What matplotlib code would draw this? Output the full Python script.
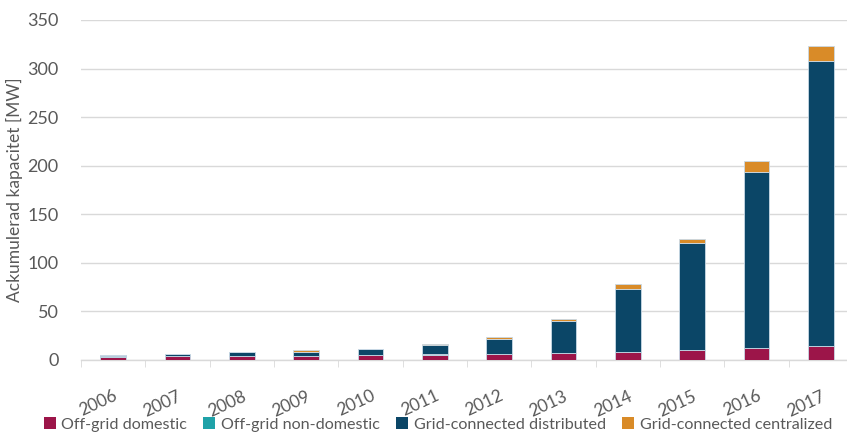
import matplotlib
matplotlib.use("Agg")
import matplotlib.pyplot as plt
import numpy as np
from matplotlib.patches import Patch

# ---------------------------------------------------------------------------
# Data (MW, accumulated)
# ---------------------------------------------------------------------------
years = ['2006', '2007', '2008', '2009', '2010', '2011',
         '2012', '2013', '2014', '2015', '2016', '2017']
off_grid_domestic = [3.5, 3.8, 3.8, 4.4, 4.7, 5.5, 6.2, 7.2, 8.2, 10.3, 12.4, 14.0]
off_grid_non_domestic = [0.2, 0.2, 0.2, 0.2, 0.2, 0.2, 0.2, 0.2, 0.2, 0.2, 0.2, 0.2]
grid_distributed = [1.8, 2.5, 4.5, 4.0, 6.1, 9.3, 15.2, 32.6, 65.1, 109.5, 181.4, 293.8]
grid_centralized = [0.0, 0.0, 0.0, 1.4, 0.7, 1.8, 1.8, 2.0, 4.5, 5.0, 11.0, 15.0]

labels = ['Off-grid domestic', 'Off-grid non-domestic',
          'Grid-connected distributed', 'Grid-connected centralized']
colors = ['#9c1549', '#1fa2a8', '#0b4667', '#d98b28']

plt.rcParams['font.family'] = ['Lato', 'DejaVu Sans']
text_grey = '#595959'

fig = plt.figure(figsize=(8.47, 4.34), dpi=100)
ax = fig.add_axes([81 / 847, 1 - 360 / 434, 772 / 847, 340 / 434])

x = np.arange(len(years))
series = [off_grid_domestic, off_grid_non_domestic, grid_distributed, grid_centralized]
bottom = np.zeros(len(years))
for vals, lab, col in zip(series, labels, colors):
    ax.bar(x, vals, width=0.4, bottom=bottom, color=col, label=lab,
           edgecolor='#c9d9e6', linewidth=0.6, zorder=3)
    bottom += np.array(vals)

ax.set_xlim(-0.5, len(years) - 0.5)
ax.set_ylim(0, 350)
ax.set_yticks(np.arange(0, 351, 50))
ax.yaxis.grid(True, color='#d9d9d9', linewidth=1, zorder=0)
ax.set_axisbelow(True)

for s in ['top', 'right', 'left']:
    ax.spines[s].set_visible(False)
ax.spines['bottom'].set_color('#d9d9d9')
ax.spines['bottom'].set_linewidth(1)

ax.set_xticks(x)
ax.set_xticklabels(years, rotation=25, ha='right', rotation_mode='anchor')
ax.set_xticks(np.arange(-0.5, len(years), 1), minor=True)
ax.tick_params(axis='x', which='major', length=0, pad=20, labelsize=12.5,
               labelcolor=text_grey)
ax.tick_params(axis='x', which='minor', length=5, color='#d9d9d9')
ax.tick_params(axis='y', length=0, pad=16, labelsize=13, labelcolor=text_grey)

ax.set_ylabel('Ackumulerad kapacitet [MW]', fontsize=12.5, color=text_grey,
              labelpad=3)

handles = [Patch(facecolor=c, edgecolor='none') for c in colors]
fig.legend(handles, labels, loc='center', bbox_to_anchor=(0.517, 0.022),
           ncol=4, frameon=False, fontsize=11.6, handlelength=0.75,
           handleheight=0.75, handletextpad=0.35, columnspacing=1.0,
           labelcolor=text_grey)

fig.savefig('out.png', dpi=100)
